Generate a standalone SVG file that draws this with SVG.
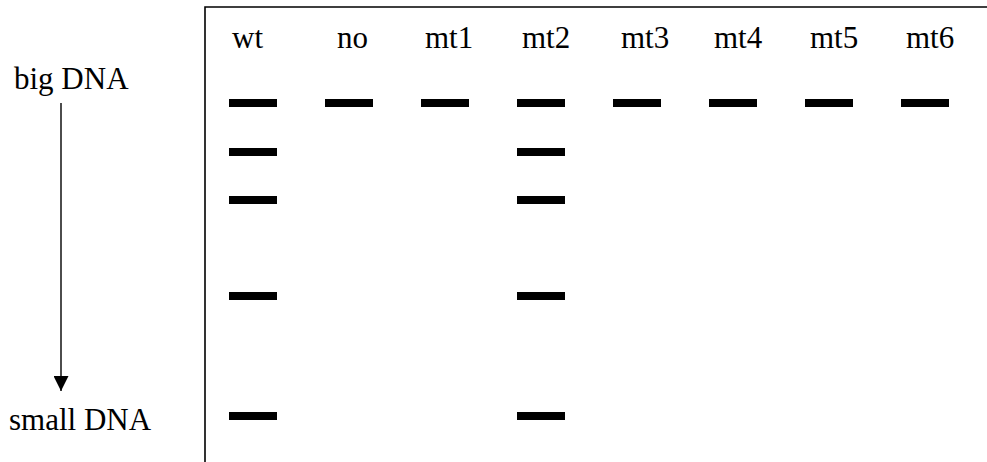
<svg xmlns="http://www.w3.org/2000/svg" width="987" height="462" viewBox="0 0 987 462">
<style>
text{font-family:"Liberation Serif","Times New Roman",serif;font-size:31px;fill:#000}
.band{fill:#000}
.frame{stroke:#000;stroke-width:1.6;fill:none}
</style>
<defs>
<marker id="ah" markerWidth="15" markerHeight="15" refX="15" refY="7.5" orient="auto" markerUnits="userSpaceOnUse">
<path d="M0,0 L15,7.5 L0,15 Z" fill="#000"/>
</marker>
</defs>
<rect width="987" height="462" fill="#fff"/>
<g id="gel-frame">
<path class="frame" d="M205,462 V7 H987"/>
</g>
<g id="labels">
<text x="14" y="89">big DNA</text>
<text x="9" y="430">small DNA</text>
</g>
<g id="lane-wt">
<text x="232" y="48">wt</text>
<rect class="band" x="229" y="99" width="48" height="8"/>
<rect class="band" x="229" y="148" width="48" height="8"/>
<rect class="band" x="229" y="196" width="48" height="8"/>
<rect class="band" x="229" y="292" width="48" height="8"/>
<rect class="band" x="229" y="412" width="48" height="8"/>
</g>
<g id="lane-no">
<text x="337" y="48">no</text>
<rect class="band" x="325" y="99" width="48" height="8"/>
</g>
<g id="lane-mt1">
<text x="425" y="48">mt1</text>
<rect class="band" x="421" y="99" width="48" height="8"/>
</g>
<g id="lane-mt2">
<text x="522" y="48">mt2</text>
<rect class="band" x="517" y="99" width="48" height="8"/>
<rect class="band" x="517" y="148" width="48" height="8"/>
<rect class="band" x="517" y="196" width="48" height="8"/>
<rect class="band" x="517" y="292" width="48" height="8"/>
<rect class="band" x="517" y="412" width="48" height="8"/>
</g>
<g id="lane-mt3">
<text x="621" y="48">mt3</text>
<rect class="band" x="613" y="99" width="48" height="8"/>
</g>
<g id="lane-mt4">
<text x="714" y="48">mt4</text>
<rect class="band" x="709" y="99" width="48" height="8"/>
</g>
<g id="lane-mt5">
<text x="810" y="48">mt5</text>
<rect class="band" x="805" y="99" width="48" height="8"/>
</g>
<g id="lane-mt6">
<text x="906" y="48">mt6</text>
<rect class="band" x="901" y="99" width="48" height="8"/>
</g>
<g id="connectors">
<line x1="61" y1="103" x2="61" y2="391" stroke="#000" stroke-width="1.4" marker-end="url(#ah)"/>
</g>
</svg>
